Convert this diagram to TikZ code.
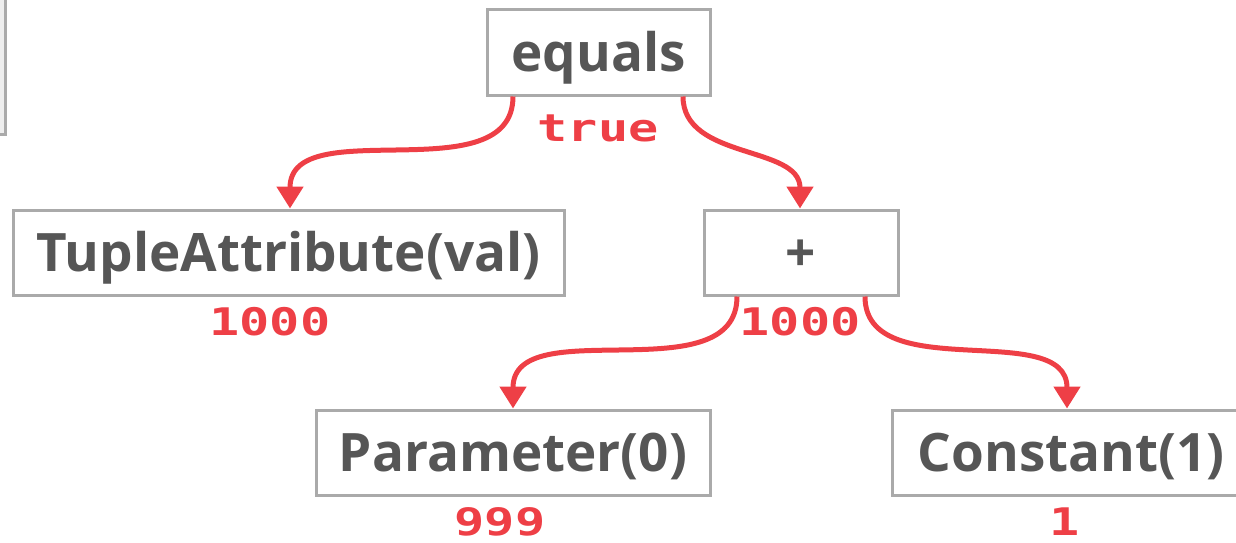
\documentclass[tikz,border=0pt]{standalone}
\usepackage{fontspec}
\setmainfont{Open Sans}
\newfontfamily\monofont[FakeStretch=1.32]{DejaVu Sans Mono}
\usetikzlibrary{arrows.meta}
\definecolor{boxgray}{HTML}{AAAAAA}
\definecolor{txtgray}{HTML}{565656}
\definecolor{valred}{HTML}{EE3F46}
\definecolor{lightfill}{HTML}{EEEEEE}
\tikzset{
  opbox/.style={draw=boxgray, line width=3pt, fill=white, rectangle, minimum height=85pt,
    inner sep=0pt, text height=40pt, text depth=3pt, text=txtgray,
    font=\fontsize{53}{53}\selectfont\bfseries},
  vallabel/.style={text=valred, inner sep=0pt, font=\monofont\fontsize{38}{38}\selectfont\bfseries},
  flow/.style={draw=valred, line width=5pt, -{Triangle[length=22pt,width=26pt]}},
}
\begin{document}
\begin{tikzpicture}[x=1pt,y=-1pt]
\useasboundingbox (0,0) rectangle (1236,543);
\draw[draw=boxgray, fill=lightfill, line width=3pt] (-10,-10) rectangle (5.5,134.5);
\node[opbox, minimum width=223pt] (eq) at (598.5,52.5) {equals};
\node[opbox, minimum width=551pt] (tuple) at (288.5,252.5) {TupleAttribute(val)};
\node[opbox, minimum width=194pt] (plus) at (801,252.5) {+};
\node[opbox, minimum width=394pt] (param) at (513,452.5) {Parameter(0)};
\node[opbox, minimum width=358pt] (const) at (1071,452.5) {Constant(1)};
\node[vallabel] (veq) at (598,128) {true};
\node[vallabel] (vtuple) at (270,322) {1000};
\node[vallabel] (vplus) at (800,322) {1000};
\node[vallabel] (vparam) at (500,522) {999};
\node[vallabel] (vconst) at (1065,522) {1};
\draw[flow] ([xshift=-85.5pt]eq.south) to[out=-90,in=90] ([xshift=1.5pt]tuple.north);
\draw[flow] ([xshift=84.5pt]eq.south) to[out=-90,in=90] ([xshift=-1pt]plus.north);
\draw[flow] ([xshift=-64pt]plus.south) to[out=-90,in=90] (param.north);
\draw[flow] ([xshift=64pt]plus.south) to[out=-90,in=90] ([xshift=-4pt]const.north);
\end{tikzpicture}
\end{document}
